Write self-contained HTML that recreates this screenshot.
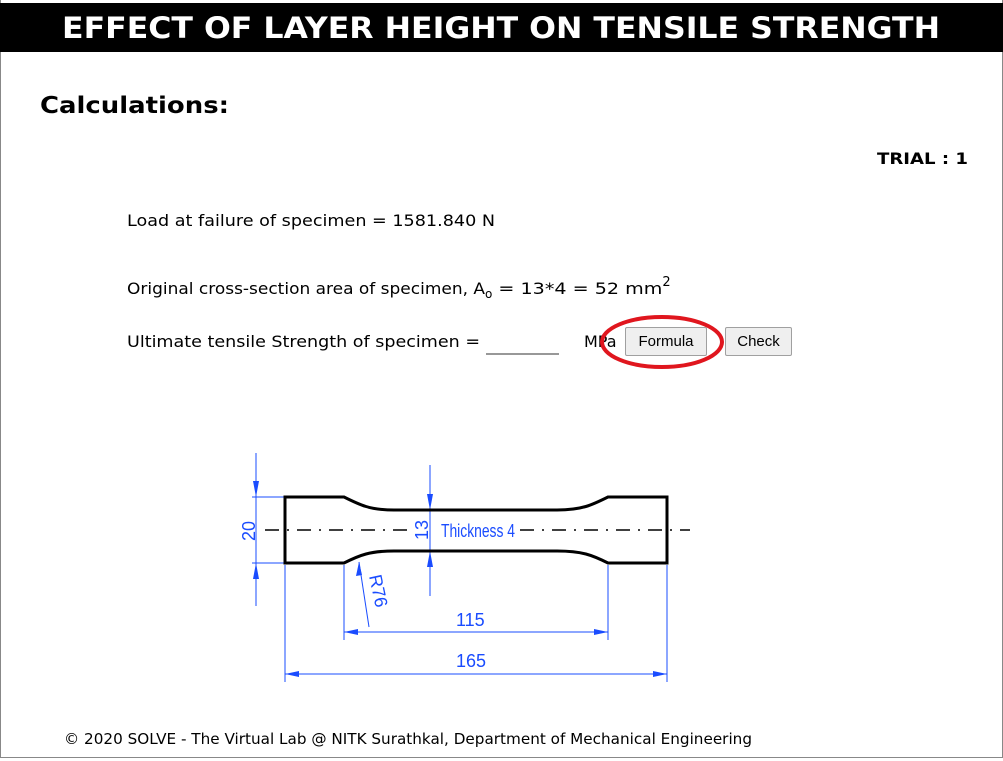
<!DOCTYPE html>
<html><head><meta charset="utf-8"><style>
body{margin:0;width:1003px;height:761px;overflow:hidden;background:#fff;font-family:"DejaVu Sans","Liberation Sans",sans-serif;position:relative}
.a{position:absolute;white-space:nowrap}
.btn{position:absolute;background:#efefef;border:1px solid #a0a0a0;border-radius:2px;font-size:15px;font-family:"Liberation Sans",sans-serif;display:flex;align-items:center;justify-content:center;box-sizing:border-box}
</style></head><body>
<div style="position:absolute;left:0;top:0;width:1001px;height:757px;border:1px solid #888;border-top:none"></div>
<div style="position:absolute;left:0;top:3px;width:1003px;height:49px;background:#000"></div>
<svg class="a" style="left:0;top:0" width="1003" height="761">
<text x="62" y="38" textLength="878" lengthAdjust="spacingAndGlyphs" font-family="DejaVu Sans" font-weight="bold" font-size="29" fill="#fff">EFFECT OF LAYER HEIGHT ON TENSILE STRENGTH</text>
<text x="40" y="113" textLength="189" lengthAdjust="spacingAndGlyphs" font-family="DejaVu Sans" font-weight="bold" font-size="23">Calculations:</text>
<text x="877" y="164" textLength="91" lengthAdjust="spacingAndGlyphs" font-family="DejaVu Sans" font-weight="bold" font-size="16">TRIAL : 1</text>
<text x="127" y="226" textLength="368" lengthAdjust="spacingAndGlyphs" font-size="16">Load at failure of specimen = 1581.840 N</text>
<text x="127" y="294" font-size="16"><tspan textLength="358" lengthAdjust="spacingAndGlyphs">Original cross-section area of specimen, A</tspan><tspan font-size="12" dy="4">o</tspan><tspan dy="-4" textLength="170" lengthAdjust="spacingAndGlyphs"> = 13*4 = 52 mm</tspan><tspan font-size="13" dy="-8">2</tspan></text>
<text x="127" y="347" textLength="353" lengthAdjust="spacingAndGlyphs" font-size="16">Ultimate tensile Strength of specimen =</text>
<line x1="486" y1="354" x2="559" y2="354" stroke="#777" stroke-width="1.5"/>
<text x="584" y="347" font-size="16">MPa</text>
<text x="64" y="744" textLength="688" lengthAdjust="spacingAndGlyphs" font-size="15">© 2020 SOLVE - The Virtual Lab @ NITK Surathkal, Department of Mechanical Engineering</text>
</svg>
<div class="btn" style="left:625px;top:327px;width:82px;height:29px">Formula</div>
<div class="btn" style="left:725px;top:327px;width:67px;height:29px">Check</div>
<svg class="a" style="left:0;top:0" width="1003" height="761">
<ellipse cx="662" cy="342" rx="60" ry="25" fill="none" stroke="#e0161e" stroke-width="4"/>
<g fill="none">
<g stroke="#1a4cff" stroke-width="1">
<line x1="256" y1="453" x2="256" y2="606"/><line x1="252" y1="497" x2="285" y2="497"/><line x1="252" y1="563" x2="285" y2="563"/>
<line x1="430" y1="465" x2="430" y2="596"/>
<line x1="285" y1="565" x2="285" y2="682"/><line x1="667" y1="565" x2="667" y2="682"/>
<line x1="344" y1="565" x2="344" y2="640"/><line x1="608" y1="565" x2="608" y2="640"/>
<line x1="344" y1="632" x2="608" y2="632"/><line x1="285" y1="674" x2="667" y2="674"/>
<line x1="369" y1="627" x2="359" y2="562"/>
</g>
<g fill="#1a4cff">
<polygon points="256,497 253,481 259,481"/><polygon points="256,563 253,579 259,579"/>
<polygon points="430,510 427,494 433,494"/><polygon points="430,551 427,567 433,567"/>
<polygon points="344,632 358,629 358,635"/><polygon points="608,632 594,629 594,635"/>
<polygon points="285,674 299,671 299,677"/><polygon points="667,674 653,671 653,677"/>
<polygon points="359,562 356,576 362,575"/>
</g>
<path d="M344,497 H285 V563 H344 C360,555 370,551 394,551 H557 C582,551 592,555 608,563 H667 V497 H608 C592,505 582,510 557,510 H394 C370,510 360,505 344,497 Z" stroke="#000" stroke-width="3"/>
<line x1="265" y1="530" x2="415" y2="530" stroke="#000" stroke-width="1.5" stroke-dasharray="14,8,2,8"/>
<line x1="520" y1="530" x2="690" y2="530" stroke="#000" stroke-width="1.5" stroke-dasharray="14,8,2,8"/>
<g fill="#1a4cff" font-family="Liberation Sans" font-size="18">
<text x="441" y="537" textLength="74" lengthAdjust="spacingAndGlyphs">Thickness 4</text>
<text x="456" y="626">115</text><text x="456" y="667">165</text>
<text transform="translate(255,541) rotate(-90)">20</text>
<text transform="translate(428,540) rotate(-90)">13</text>
<text transform="translate(369,576) rotate(78)">R76</text>
</g>
</g>
</svg>
</body></html>
